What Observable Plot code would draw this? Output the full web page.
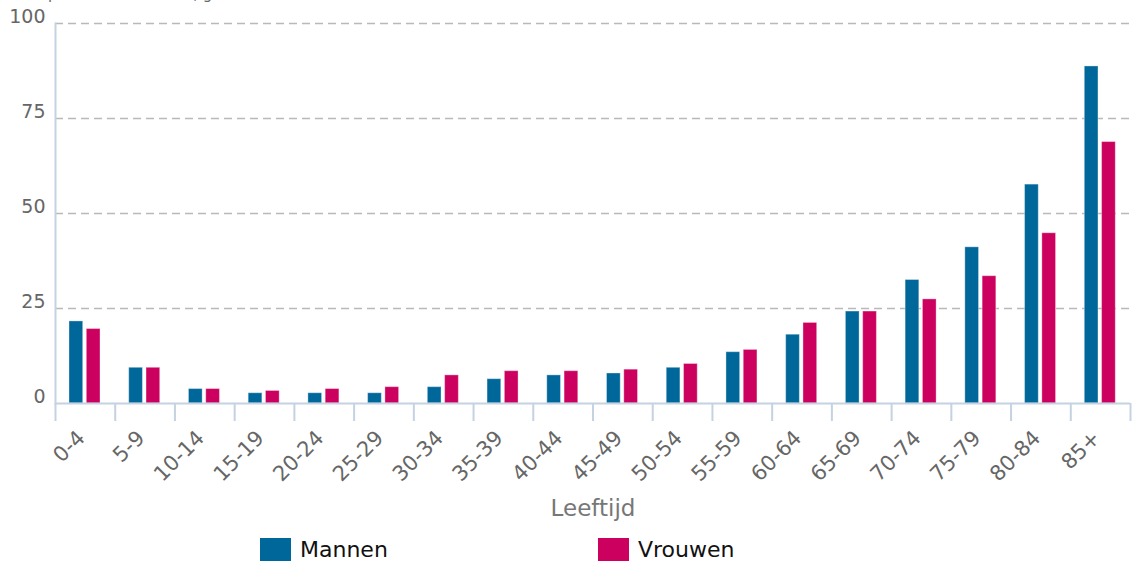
<!DOCTYPE html>
<html>
<head>
<meta charset="utf-8">
<script src="https://cdn.jsdelivr.net/npm/d3@7"></script>
<script src="https://cdn.jsdelivr.net/npm/@observablehq/plot@0.6"></script>
<style>
  body { margin: 0; background: #fff; font-family: "DejaVu Sans", Verdana, sans-serif; position: relative; width: 1139px; height: 562px; overflow: hidden; }
  #title { position: absolute; left: 48px; top: -15px; font-size: 15px; color: #666; white-space: nowrap; }
  #legend { position: absolute; left: 0; top: 537px; width: 1139px; height: 25px; }
  .item { position: absolute; top: 0; display: flex; align-items: center; font-size: 22px; color: #111; }
  .sw { width: 31px; height: 23px; margin-right: 9px; }
</style>
</head>
<body>
<div id="title">per 1.000 inwoners, gestandaardiseerd</div>
<div id="chart"></div>
<div id="legend"></div>
<script>
const ages = ["0-4","5-9","10-14","15-19","20-24","25-29","30-34","35-39","40-44","45-49","50-54","55-59","60-64","65-69","70-74","75-79","80-84","85+"];
const mannen  = [21.6, 9.4, 3.8, 2.7, 2.7, 2.7, 4.3, 6.4, 7.4, 7.9, 9.4, 13.5, 18.1, 24.2, 32.5, 41.1, 57.6, 88.7];
const vrouwen = [19.6, 9.4, 3.8, 3.3, 3.8, 4.3, 7.4, 8.5, 8.5, 8.9, 10.4, 14.1, 21.2, 24.2, 27.4, 33.5, 44.8, 68.8];
const series = ["Mannen", "Vrouwen"];
const colors = ["#00679b", "#cc005f"];
const yTicks = [0, 25, 50, 75, 100];

const data = [];
ages.forEach((a, i) => {
  data.push({age: a, sex: series[0], value: mannen[i]});
  data.push({age: a, sex: series[1], value: vrouwen[i]});
});

const W = 1139, H = 528, ML = 55, MR = 9, MT = 23, MB = 125;
const bw = (W - ML - MR) / ages.length;

const chart = Plot.plot({
  width: W, height: H,
  marginLeft: ML, marginRight: MR, marginTop: MT, marginBottom: MB,
  style: {fontFamily: "DejaVu Sans, Verdana, sans-serif", background: "#fff"},
  x: {domain: ages, padding: 0, round: false, axis: null},
  y: {domain: [0, 100], axis: null},
  color: {domain: series, range: colors},
  marks: [
    Plot.gridY(yTicks.filter(d => d > 0), {stroke: "#b9b9b9", strokeOpacity: 1, strokeWidth: 1.5, strokeDasharray: "8,5"}),
    Plot.frame({anchor: "left", stroke: "#c4d2e2", strokeWidth: 2}),
    Plot.barY(data.filter(d => d.sex === series[0]), {x: "age", y: "value", fill: colors[0], stroke: "#ffffff", strokeOpacity: 0.35, strokeWidth: 1, insetLeft: 14, insetRight: bw - 27.7}),
    Plot.barY(data.filter(d => d.sex === series[1]), {x: "age", y: "value", fill: colors[1], stroke: "#ffffff", strokeOpacity: 0.35, strokeWidth: 1, insetLeft: 31.3, insetRight: bw - 45}),
    Plot.ruleY([0], {stroke: "#c4d2e2", strokeWidth: 2}),
    Plot.axisX({ticks: ages, tickSize: 18, text: null, dx: -bw / 2, stroke: "#c4d2e2", strokeWidth: 2, label: null}),
    Plot.axisX({ticks: [ages[ages.length - 1]], tickSize: 18, text: null, dx: bw / 2, stroke: "#c4d2e2", strokeWidth: 2, label: null}),
    Plot.axisX({ticks: ages, tickSize: 0, tickPadding: 30, tickRotate: -45, fontSize: 21, fill: "#666", label: null, dx: -4, dy: 1}),
    Plot.axisY({ticks: yTicks, tickSize: 0, tickPadding: 10, dy: -7, fontSize: 19, fill: "#666", label: null}),
    Plot.text(["Leeftijd"], {frameAnchor: "bottom", dy: 112, fontSize: 23, fill: "#777"})
  ]
});
document.getElementById("chart").appendChild(chart);

const legend = document.getElementById("legend");
const lx = [260, 598];
series.forEach((s, i) => {
  const it = document.createElement("div");
  it.className = "item";
  it.style.left = lx[i] + "px";
  it.innerHTML = `<span class="sw" style="background:${colors[i]}"></span><span>${s}</span>`;
  legend.appendChild(it);
});
</script>
</body>
</html>
